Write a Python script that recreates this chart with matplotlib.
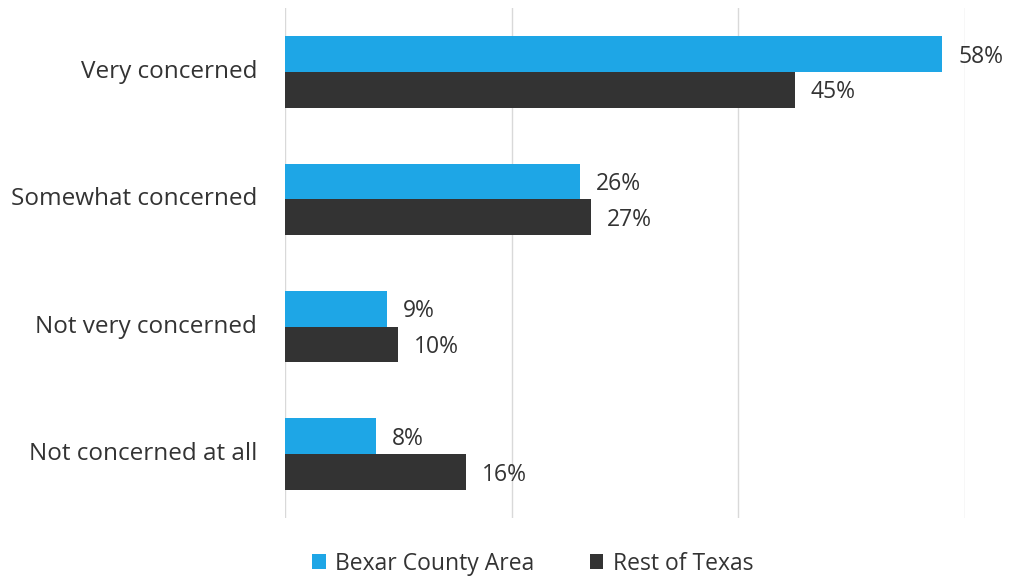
import numpy as np
import matplotlib.pyplot as plt

plt.rcParams['font.family'] = ['Open Sans', 'DejaVu Sans']

categories = ["Very concerned", "Somewhat concerned", "Not very concerned", "Not concerned at all"]
bexar = [58, 26, 9, 8]
rest = [45, 27, 10, 16]
series_names = ["Bexar County Area", "Rest of Texas"]

blue = "#1EA6E6"
dark = "#333333"

fig = plt.figure(figsize=(10.09, 5.78), dpi=100)
ax = fig.add_axes([0.2825, 0.104, 0.674, 0.882])

y = np.arange(len(categories))
h = 0.28
b1 = ax.barh(y - h / 2, bexar, height=h, color=blue, label=series_names[0])
b2 = ax.barh(y + h / 2, rest, height=h, color=dark, label=series_names[1])

for bars, vals in [(b1, bexar), (b2, rest)]:
    for bar, v in zip(bars, vals):
        ax.text(bar.get_width() + 1.4, bar.get_y() + bar.get_height() / 2 + 0.02, f"{v}%",
                va="center", ha="left", fontsize=16.5, color="#333333")

ax.set_xlim(0, 60)
ax.set_ylim(3.5, -0.5)
ax.set_yticks(y)
ax.set_yticklabels(categories, fontsize=17.5, color="#333333", va="center")
ax.set_xticks([0, 20, 40, 60])
ax.set_xticklabels([])
ax.tick_params(length=0, axis="both", pad=20)
ax.xaxis.grid(True, color="#d9d9d9", linewidth=1)
ax.set_axisbelow(True)
for s in ax.spines.values():
    s.set_visible(False)

fig.legend(handles=[b1, b2], loc="center", bbox_to_anchor=(0.528, 0.025), ncol=2,
           frameon=False, fontsize=16.5, handlelength=0.6, handleheight=0.6,
           columnspacing=2.4, handletextpad=0.4, labelcolor="#333333")

fig.savefig("out.png", dpi=100)
